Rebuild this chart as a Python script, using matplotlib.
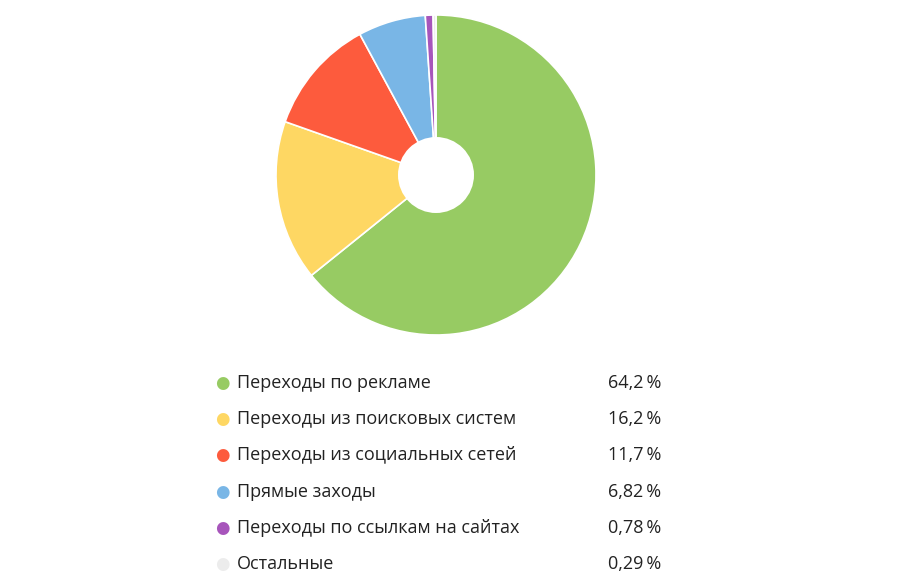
import matplotlib
matplotlib.use("Agg")
import matplotlib.pyplot as plt
from matplotlib.patches import Circle

labels = ["Переходы по рекламе", "Переходы из поисковых систем",
          "Переходы из социальных сетей", "Прямые заходы",
          "Переходы по ссылкам на сайтах", "Остальные"]
values = [64.2, 16.2, 11.7, 6.82, 0.78, 0.29]
value_labels = ["64,2\u2009%", "16,2\u2009%", "11,7\u2009%", "6,82\u2009%", "0,78\u2009%", "0,29\u2009%"]
colors = ["#97cb63", "#fed763", "#fd5b3d", "#79b6e6", "#a755bb", "#ececec"]

W, H = 904, 581
fig = plt.figure(figsize=(W/100, H/100), dpi=100)
fig.patch.set_facecolor("white")

cx, cy, r = 436, 175, 160
ax = fig.add_axes([(cx - r)/W, (H - cy - r)/H, 2*r/W, 2*r/H])
ax.pie(values, colors=colors, startangle=90, counterclock=False, radius=1,
       wedgeprops=dict(linewidth=1.2, edgecolor="white"))
ax.add_patch(Circle((0, 0), 38/160, facecolor="white", edgecolor="none", zorder=5))
ax.set_xlim(-1, 1); ax.set_ylim(-1, 1)
ax.set_aspect("equal")
ax.axis("off")

rows_y = [383, 419, 455, 492, 528, 564]
for lab, vl, col, y in zip(labels, value_labels, colors, rows_y):
    fig.text(222/W, (H - y)/H, "\u25cf", color=col, fontsize=12, ha="center", va="center",
             family=['DejaVu Sans'])
    fig.text(237/W, (H - y)/H, lab, color="#222222", fontsize=13, ha="left", va="center",
             family=['Open Sans', 'DejaVu Sans'])
    fig.text(661/W, (H - y)/H, vl, color="#222222", fontsize=13, ha="right", va="center",
             family=['Open Sans', 'DejaVu Sans'])

fig.savefig("out.png", dpi=100, facecolor="white")
